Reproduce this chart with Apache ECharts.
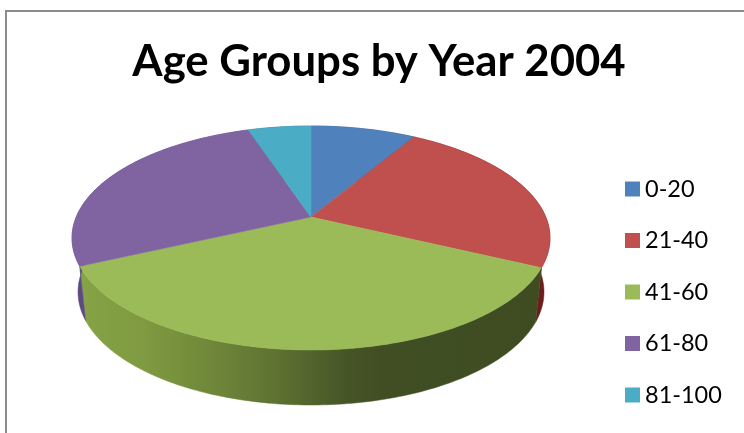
<!DOCTYPE html>
<html>
<head>
<meta charset="utf-8">
<style>html,body{margin:0;padding:0;background:#fff;overflow:hidden}#chart{width:744px;height:433px}</style>
<script src="https://cdn.jsdelivr.net/npm/echarts@6/dist/echarts.min.js"></script>
</head>
<body>
<div id="chart"></div>
<script>
// Share of each age group, in percent
const categories = ['0-20', '21-40', '41-60', '61-80', '81-100'];
const shares = [8.5, 23.6, 36.0, 26.8, 5.1];
const topColors = ['#4f81bd', '#c0504d', '#9bbb59', '#8064a2', '#4bacc6'];
const wallColors = ['#2f4d71', '#6c1e1c', '#86a346', '#5d4a80', '#2c6b7e'];

// Tilted disc: upper face and lower rim as ellipses, with the hub shifted
// towards the far edge by the perspective.
const upper = { cx: 311, cy: 238, rx: 239, ry: 112 };
const lower = { cx: 311, cy: 292, rx: 233, ry: 113 };
const hubShift = 0.1875;

function project(e, deg) {
  const t = deg * Math.PI / 180;
  const u = Math.sin(t), v = Math.cos(t);
  const d = 1 + hubShift * v;
  return [
    e.cx + e.rx * u * Math.sqrt(1 - hubShift * hubShift) / d,
    e.cy - e.ry * (v + hubShift) / d
  ];
}

function arc(e, from, to) {
  const pts = [];
  for (let a = from; a < to; a += 1) pts.push(project(e, a));
  pts.push(project(e, to));
  return pts;
}

const total = shares.reduce((s, x) => s + x, 0);
const spans = [];
shares.reduce((acc, x) => {
  const next = acc + x / total * 360;
  spans.push([acc, next]);
  return next;
}, 0);

// Side walls sit under every face; only the near ones stay visible.
const wallSeries = {
  type: 'custom',
  coordinateSystem: 'none',
  silent: true,
  z: 1,
  data: shares.map((_, i) => [i]),
  renderItem(params) {
    const i = params.dataIndex;
    const [from, to] = spans[i];
    const pts = arc(upper, from, to).concat(arc(lower, from, to).reverse());
    const fill = i === 2 ? {
      type: 'linear', global: true, x: 80, y: 0, x2: 540, y2: 0,
      colorStops: [
        { offset: 0, color: wallColors[i] },
        { offset: 0.14, color: '#7f9a40' },
        { offset: 0.28, color: '#70883a' },
        { offset: 0.42, color: '#5f7332' },
        { offset: 0.58, color: '#465526' },
        { offset: 0.66, color: '#404e23' },
        { offset: 1, color: '#3f4c22' }
      ]
    } : wallColors[i];
    return { type: 'polygon', shape: { points: pts }, style: { fill, stroke: fill, lineWidth: 0.5 } };
  }
};

const faceSeries = categories.map((name, i) => ({
  type: 'custom',
  name,
  coordinateSystem: 'none',
  silent: true,
  z: 2,
  itemStyle: { color: topColors[i] },
  data: [[shares[i]]],
  renderItem() {
    const [from, to] = spans[i];
    const hub = [upper.cx, upper.cy - upper.ry * hubShift];
    return {
      type: 'polygon',
      shape: { points: [hub].concat(arc(upper, from, to)) },
      style: { fill: topColors[i], stroke: topColors[i], lineWidth: 0.5 }
    };
  }
}));

const chart = echarts.init(document.getElementById('chart'), null, { renderer: 'canvas' });
chart.setOption({
  animation: false,
  backgroundColor: '#ffffff',
  title: {
    text: 'Age Groups by Year 2004',
    left: 374,
    top: 35,
    textAlign: 'center',
    textStyle: { fontFamily: 'Lato', fontWeight: 'bold', fontSize: 43.7, color: '#000000' }
  },
  legend: {
    orient: 'vertical',
    left: 625,
    top: 177,
    height: 245,
    padding: 0,
    itemWidth: 15,
    itemHeight: 15,
    itemGap: 27.5,
    icon: 'rect',
    data: categories,
    selectedMode: false,
    textStyle: { fontFamily: 'Lato', fontSize: 23.5, color: '#000000' }
  },
  graphic: [{
    type: 'rect',
    silent: true,
    z: 0,
    shape: { x: 6, y: 11, width: 800, height: 500 },
    style: { fill: 'none', stroke: '#8c8c8c', lineWidth: 2 }
  }],
  series: [wallSeries].concat(faceSeries)
});
</script>
</body>
</html>
